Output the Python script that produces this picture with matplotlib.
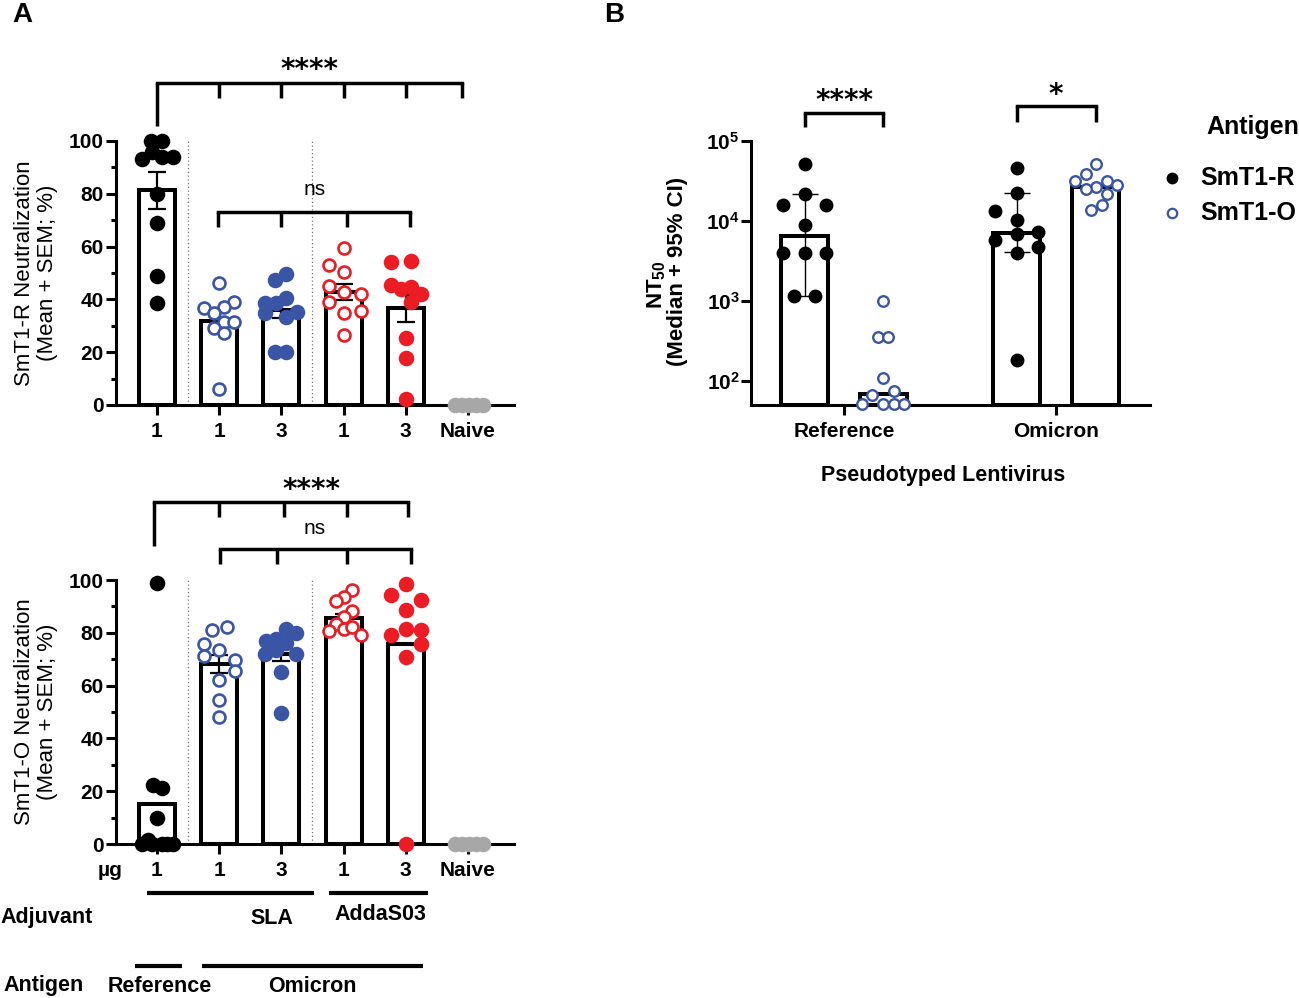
import numpy as np
import matplotlib
matplotlib.use('Agg')
import matplotlib.pyplot as plt
from matplotlib.lines import Line2D

plt.rcParams['font.family'] = ['Liberation Sans', 'DejaVu Sans']
plt.rcParams['mathtext.fontset'] = 'custom'
plt.rcParams['mathtext.rm'] = 'Liberation Sans'
plt.rcParams['mathtext.bf'] = 'Liberation Sans:bold'
plt.rcParams['mathtext.default'] = 'bf'

# ---------------- data ----------------
dose_labels = ['1', '1', '3', '1', '3', 'Naive']
pct_ticks = [0, 20, 40, 60, 80, 100]
pct_ticklabels = ['0', '20', '40', '60', '80', '100']

# Panel A top: SmT1-R neutralization (%)
smt1r_g1 = [100, 100, 96, 94, 94, 93, 80, 69, 49, 38.5]
smt1r_g2 = [46.3, 39, 36.6, 37.2, 35, 31.5, 31.3, 29, 27.1, 5.9]
smt1r_g3 = [49.6, 47.5, 40.7, 38.7, 38.7, 34.9, 35.3, 33.4, 20.2, 20.2]
smt1r_g4 = [59.3, 53, 50.4, 45.1, 42.9, 42.2, 39.1, 35.7, 34.9, 26.7]
smt1r_g5 = [54.2, 54.6, 45.4, 44.8, 44.1, 42.2, 39.1, 25.2, 17.7, 2.1]
smt1r_naive = [0, 0, 0, 0, 0]
smt1r_mean = [81.3, 31.8, 35.8, 42.9, 36.6, 0]
smt1r_sem = [7.0, 3.4, 3.0, 3.1, 5.1, 0]

# Panel A bottom: SmT1-O neutralization (%)
smt1o_g1 = [98.7, 22.5, 21.3, 9.7, 1.5, 0, 0, 0, 0, 0]
smt1o_g2 = [82.1, 80.9, 75.8, 73.3, 71.4, 69.8, 65.4, 62, 54.4, 48.1]
smt1o_g3 = [81.5, 80, 76.8, 77.7, 76.1, 72, 73.3, 72, 65.1, 49.6]
smt1o_g4 = [96.2, 93.5, 92.2, 88.4, 85.9, 83.4, 81.5, 82.1, 80.6, 79.3]
smt1o_g5 = [98.5, 94.3, 92.4, 88.7, 79.3, 81.5, 81.2, 75.8, 70.8, 0]
smt1o_naive = [0, 0, 0, 0, 0]
smt1o_mean = [15.0, 68.2, 71.8, 85.6, 75.8, 0]
smt1o_sem = [0, 3.3, 2.4, 1.7, 0, 0]

# Panel B: NT50
lenti_labels = ['Reference', 'Omicron']
nt50_R_ref = [51000, 21500, 16000, 16000, 8900, 4000, 4000, 4000, 1150, 1150]
nt50_R_omi = [46400, 22400, 13500, 10200, 7300, 6900, 5750, 4700, 4000, 185]
nt50_O_ref = [1000, 355, 355, 110, 75, 66, 52, 52, 52, 52]
nt50_O_omi = [51000, 39000, 31600, 31600, 27900, 26600, 25100, 21500, 15700, 13800]
nt50_R_median = [6500, 7100]
nt50_R_ci_lo = [1150, 4100]
nt50_R_ci_hi = [21500, 22400]
nt50_O_median = [68, 26600]
log_ticks = [1e2, 1e3, 1e4, 1e5]
log_ticklabels = [r'$10^{2}$', r'$10^{3}$', r'$10^{4}$', r'$10^{5}$']

# ---------------- layout / style ----------------
W, H = 1299, 998
BLUE = '#3A54A6'
RED = '#EC1C24'
GRAY = '#A7A7A7'
colorsA = ['black', BLUE, BLUE, RED, RED, GRAY]
filledA = [True, False, True, False, True, True]

# horizontal jitter of points (pixels), layout only
jit_top = [[-6, 5, -5, 5, 16, -15, 0, 0, 0, 0],
           [0, 15, -15, 5, -5, 5, 15, -5, 5, 0],
           [5, -6, 5, -16, -5, -16, 16, 5, -6, 5],
           [0, -15, 0, -15, 0, 17, -15, 17, 0, 0],
           [-15, 5, -15, 5, -5, 15, 5, 0, 0, 0],
           [-13, -6, 1, 8, 15]]
jit_bot = [[0, -4, 5, 0, -9, -15, -5, 5, 10, 16],
           [8, -7, -15, 0, -15, 16, 16, 0, 0, 0],
           [5, 15, -15, -5, 5, -16, -5, 15, 0, 0],
           [8, 0, -8, 8, 0, -8, 0, 8, -15, 17],
           [0, -15, 15, 0, -15, 0, 15, 15, 0, 0],
           [-13, -6, 1, 8, 15]]
jit_R = [[0, 0, -22, 21, 0, -22, 0, 21, -11, 10],
         [0, 0, -22, 0, 21, 0, -22, 21, 0, 0]]
jit_O = [[0, -5, 5, 0, 11, -11, -21, 0, 11, 21],
         [0, -10, -21, 11, 21, 0, -10, 11, 6, -5]]

UNIT_A = 62.2   # px per group in panel A
UNIT_B = 212.0  # px per group in panel B

fig = plt.figure(figsize=(W / 100, H / 100), dpi=100)


def add_ax(l, t, r, b):
    return fig.add_axes([l / W, 1 - b / H, (r - l) / W, (b - t) / H])


def ftext(x, y, s, **kw):
    return fig.text(x / W, 1 - y / H, s, **kw)


def fline(x0, x1, y, lw=3.0):
    fig.add_artist(Line2D([x0 / W, x1 / W], [1 - y / H, 1 - y / H],
                          transform=fig.transFigure, color='black', lw=lw,
                          solid_capstyle='butt'))


def style_axes(ax):
    for s in ['top', 'right']:
        ax.spines[s].set_visible(False)
    for s in ['left', 'bottom']:
        ax.spines[s].set_linewidth(2.2)
    ax.tick_params(which='major', length=7.2, width=2.2, direction='out')
    ax.tick_params(which='minor', length=3.6, width=2.2, direction='out')
    ax.tick_params(axis='y', pad=1.5, labelsize=15)
    ax.tick_params(axis='x', pad=5.3, labelsize=15)


def bracket(ax, xs, y, y_leg, first_leg=None, lw=2.5):
    ax.plot([xs[0], xs[-1]], [y, y], color='black', lw=lw, clip_on=False,
            solid_capstyle='projecting')
    for i, x in enumerate(xs):
        yl = first_leg if (i == 0 and first_leg is not None) else y_leg
        ax.plot([x, x], [y, yl], color='black', lw=lw, clip_on=False,
                solid_capstyle='butt')


def draw_panel_A(ax, groups, jits, means, sems):
    pos = np.arange(len(groups))
    ax.bar(pos, means, width=0.58, facecolor='white', edgecolor='black',
           linewidth=2.9, zorder=2)
    for i in range(len(groups)):
        if sems[i] > 0:
            ax.errorbar([pos[i]], [means[i]], yerr=[sems[i]], fmt='none',
                        ecolor='black', elinewidth=1.6, capsize=6.5,
                        capthick=1.6, zorder=3)
    for i, (vals, jit) in enumerate(zip(groups, jits)):
        x = pos[i] + np.array(jit) / UNIT_A
        if filledA[i]:
            ax.plot(x, vals, 'o', ms=11.2, mfc=colorsA[i], mec=colorsA[i],
                    mew=0, zorder=4, clip_on=False)
        else:
            ax.plot(x, vals, 'o', ms=8.6, mfc='white', mec=colorsA[i],
                    mew=1.9, zorder=4, clip_on=False)
    for xv in [0.5, 2.5]:
        ax.axvline(xv, ymin=0, ymax=1, color='#777777', lw=0.9,
                   ls=(0, (1, 2)), zorder=1)
    ax.set_xlim(-0.659, 5.74)
    ax.set_ylim(0, 100)
    ax.set_yticks(pct_ticks, pct_ticklabels, fontweight='bold')
    ax.set_yticks([10, 30, 50, 70, 90], minor=True)
    ax.set_xticks(pos, dose_labels, fontweight='bold')
    style_axes(ax)


# ---------------- Panel A top ----------------
axT = add_ax(116, 141, 514, 405)
draw_panel_A(axT, [smt1r_g1, smt1r_g2, smt1r_g3, smt1r_g4, smt1r_g5, smt1r_naive],
             jit_top, smt1r_mean, smt1r_sem)
bracket(axT, [0, 1, 2, 3, 4, 4.9], 122, 116.3, first_leg=105.7)
axT.text(2.45, 123.7, '****', ha='center', va='baseline', fontsize=20,
         fontweight='bold', family='DejaVu Sans')
bracket(axT, [0.98, 2.0, 3.05, 4.07], 73.1, 67.4)
axT.text(2.54, 79.6, 'ns', ha='center', va='baseline', fontsize=15)

# ---------------- Panel A bottom ----------------
axB = add_ax(116, 580, 514, 844)
draw_panel_A(axB, [smt1o_g1, smt1o_g2, smt1o_g3, smt1o_g4, smt1o_g5, smt1o_naive],
             jit_bot, smt1o_mean, smt1o_sem)
bracket(axB, [-0.05, 1, 2.05, 3.05, 4.03], 129.5, 123.9, first_leg=112.9)
axB.text(2.48, 131.1, '****', ha='center', va='baseline', fontsize=20,
         fontweight='bold', family='DejaVu Sans')
bracket(axB, [1.02, 1.93, 3.05, 4.08], 111.7, 106.0)
axB.text(2.54, 117.3, 'ns', ha='center', va='baseline', fontsize=15)

# y labels A
ftext(36, 273, 'SmT1-R Neutralization\n(Mean + SEM; %)', rotation=90,
      ha='center', va='center', fontsize=16, linespacing=1.15,
      multialignment='center')
ftext(36, 712, 'SmT1-O Neutralization\n(Mean + SEM; %)', rotation=90,
      ha='center', va='center', fontsize=16, linespacing=1.15,
      multialignment='center')

# annotations under A
ftext(110, 870, 'µg', ha='center', va='center', fontsize=15, fontweight='bold')
fline(147, 314, 893)
fline(329, 428, 893)
ftext(0, 918, 'Adjuvant', ha='left', va='center', fontsize=15.5, fontweight='bold')
ftext(272, 918, 'SLA', ha='center', va='center', fontsize=15.5, fontweight='bold')
ftext(380, 914, 'AddaS03', ha='center', va='center', fontsize=15.5, fontweight='bold')
fline(135, 182, 966)
fline(202, 423, 966)
ftext(3, 986, 'Antigen', ha='left', va='center', fontsize=15.5, fontweight='bold')
ftext(160, 986, 'Reference', ha='center', va='center', fontsize=15.5, fontweight='bold')
ftext(312, 986, 'Omicron', ha='center', va='center', fontsize=15.5, fontweight='bold')

# ---------------- Panel B ----------------
axN = add_ax(751, 141, 1150, 405)
axN.set_yscale('log')
axN.set_ylim(50, 1e5)
axN.set_xlim(-0.4387, 1.443)
gpos = np.arange(len(lenti_labels))
off = 0.186
bw = 0.22
bottom = 50
xR = gpos - off
xO = gpos + off
axN.bar(xR, np.array(nt50_R_median) - bottom, bottom=bottom, width=bw,
        facecolor='white', edgecolor='black', linewidth=2.9, zorder=2)
axN.bar(xO, np.array(nt50_O_median) - bottom, bottom=bottom, width=bw,
        facecolor='white', edgecolor='black', linewidth=2.9, zorder=2)
med = np.array(nt50_R_median, dtype=float)
axN.errorbar(xR, med, yerr=[med - np.array(nt50_R_ci_lo), np.array(nt50_R_ci_hi) - med],
             fmt='none', ecolor='black', elinewidth=1.0, capsize=9.5,
             capthick=1.0, zorder=3)
for i, vals in enumerate([nt50_R_ref, nt50_R_omi]):
    x = xR[i] + np.array(jit_R[i]) / UNIT_B
    axN.plot(x, vals, 'o', ms=10.0, mfc='black', mec='black', mew=0,
             zorder=4, clip_on=False)
for i, vals in enumerate([nt50_O_ref, nt50_O_omi]):
    x = xO[i] + np.array(jit_O[i]) / UNIT_B
    axN.plot(x, vals, 'o', ms=7.6, mfc='white', mec=BLUE, mew=1.7,
             zorder=4, clip_on=False)
axN.set_yticks(log_ticks, log_ticklabels)
axN.yaxis.set_minor_locator(matplotlib.ticker.NullLocator())
axN.set_xticks(gpos, lenti_labels, fontweight='bold')
style_axes(axN)
axN.tick_params(axis='y', pad=1.0, labelsize=15)

# brackets B (log coordinates)
bracket(axN, [xR[0], xO[0]], 10 ** 5.35, 10 ** 5.175)
axN.text(gpos[0], 10 ** 5.395, '****', ha='center', va='baseline', fontsize=20,
         fontweight='bold', family='DejaVu Sans')
bracket(axN, [xR[1], xO[1]], 10 ** 5.4375, 10 ** 5.2375)
axN.text(gpos[1], 10 ** 5.47, '*', ha='center', va='baseline', fontsize=20,
         fontweight='bold', family='DejaVu Sans')

ftext(657, 285, r'NT$_{50}$', rotation=90, ha='center', va='center',
      fontsize=16, fontweight='bold')
ftext(677, 271, '(Median + 95% CI)', rotation=90, ha='center', va='center',
      fontsize=16, fontweight='bold')
ftext(943, 475, 'Pseudotyped Lentivirus', ha='center', va='center',
      fontsize=15.5, fontweight='bold')

# legend B
ftext(1253, 127, 'Antigen', ha='center', va='center', fontsize=18, fontweight='bold')
fig.add_artist(Line2D([1172 / W], [1 - 178 / H], transform=fig.transFigure,
                      marker='o', ms=8.5, mfc='black', mec='black', mew=0, ls='none'))
fig.add_artist(Line2D([1172 / W], [1 - 213 / H], transform=fig.transFigure,
                      marker='o', ms=6.8, mfc='white', mec=BLUE, mew=1.6, ls='none'))
ftext(1200, 178, 'SmT1-R', ha='left', va='center', fontsize=18, fontweight='bold')
ftext(1200, 213, 'SmT1-O', ha='left', va='center', fontsize=18, fontweight='bold')

# panel letters
ftext(22, 15, 'A', ha='center', va='center', fontsize=20, fontweight='bold')
ftext(614, 15, 'B', ha='center', va='center', fontsize=20, fontweight='bold')

fig.savefig('out.png', dpi=100)
